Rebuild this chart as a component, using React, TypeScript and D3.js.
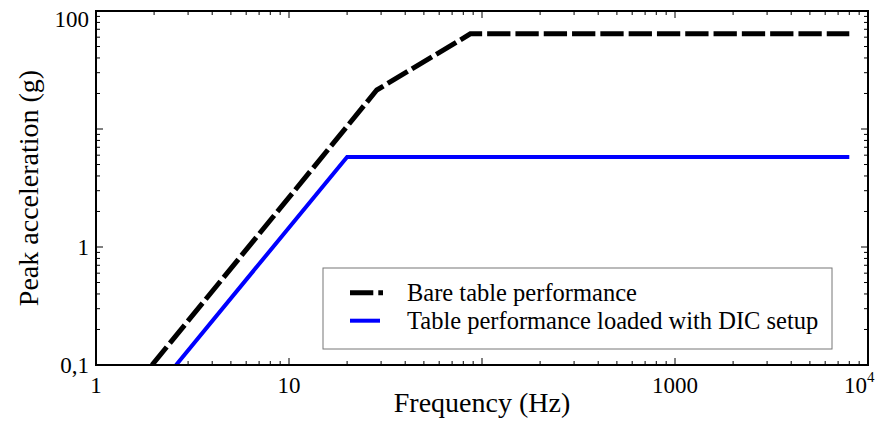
import React from "react";
import * as d3 from "d3";

const bareFreq = [1.95, 28.5, 87, 8000];
const bareAcc = [0.1, 21.4, 64, 64];
const loadedFreq = [2.6, 20, 8000];
const loadedAcc = [0.1, 5.8, 5.8];

const xMajor = [1, 10, 100, 1000, 10000];
const xLabels = ["1", "10", "", "1000", "10^4"];
const yMajor = [0.1, 1, 10, 100];
const yLabels = ["0,1", "1", "", "100"];

const seriesNames = ["Bare table performance", "Table performance loaded with DIC setup"];

const W = 888, H = 425;
const M = { left: 96, right: 868, top: 11, bottom: 365 };

export default function App() {
  const x = d3.scaleLog().domain([1, 10000]).range([M.left, M.right]);
  const y = d3.scaleLog().domain([0.1, 100]).range([M.bottom, M.top]);
  const line = d3.line<[number, number]>().x(d => x(d[0])).y(d => y(d[1]));
  const bare = bareFreq.map((f, i) => [f, bareAcc[i]] as [number, number]);
  const loaded = loadedFreq.map((f, i) => [f, loadedAcc[i]] as [number, number]);

  const xMinor: number[] = [];
  for (let d = 0; d < 4; d++) for (let k = 2; k <= 9; k++) xMinor.push(k * Math.pow(10, d));
  const yMinor: number[] = [];
  for (let d = -1; d < 2; d++) for (let k = 2; k <= 9; k++) yMinor.push(k * Math.pow(10, d));

  const font = "'Liberation Serif', 'Times New Roman', serif";
  const dash = "23.3,5";
  const maj = 7, mnr = 4;

  return (
    <svg width={W} height={H} style={{ position: "absolute", left: 0, top: 0, background: "#fff" }} fontFamily={font}>
      <defs>
        <clipPath id="plot">
          <rect x={M.left} y={M.top} width={M.right - M.left} height={M.bottom - M.top} />
        </clipPath>
      </defs>
      <rect x={0} y={0} width={W} height={H} fill="#fff" />
      {/* ticks */}
      <g stroke="#000" strokeWidth={1}>
        {xMajor.map((v, i) => (
          <g key={"xm" + i}>
            <line x1={x(v)} x2={x(v)} y1={M.bottom} y2={M.bottom - maj} />
            <line x1={x(v)} x2={x(v)} y1={M.top} y2={M.top + maj} />
          </g>
        ))}
        {xMinor.map((v, i) => (
          <g key={"xn" + i}>
            <line x1={x(v)} x2={x(v)} y1={M.bottom} y2={M.bottom - mnr} />
            <line x1={x(v)} x2={x(v)} y1={M.top} y2={M.top + mnr} />
          </g>
        ))}
        {yMajor.map((v, i) => (
          <g key={"ym" + i}>
            <line x1={M.left} x2={M.left + maj} y1={y(v)} y2={y(v)} />
            <line x1={M.right} x2={M.right - maj} y1={y(v)} y2={y(v)} />
          </g>
        ))}
        {yMinor.map((v, i) => (
          <g key={"yn" + i}>
            <line x1={M.left} x2={M.left + mnr} y1={y(v)} y2={y(v)} />
            <line x1={M.right} x2={M.right - mnr} y1={y(v)} y2={y(v)} />
          </g>
        ))}
      </g>
      {/* data */}
      <g clipPath="url(#plot)" fill="none">
        <path d={line(loaded) || ""} stroke="#0000ff" strokeWidth={4} />
        <path d={line(bare) || ""} stroke="#000" strokeWidth={5} strokeDasharray={dash} />
      </g>
      {/* frame */}
      <rect x={M.left} y={M.top} width={M.right - M.left} height={M.bottom - M.top} fill="none" stroke="#000" strokeWidth={2} />
      {/* x tick labels */}
      {xMajor.map((v, i) => {
        const lab = xLabels[i];
        if (!lab) return null;
        if (lab.includes("^")) {
          const [b, e] = lab.split("^");
          return (
            <g key={"xl" + i}>
              <text x={x(v) - 1} y={M.bottom + 28} fontSize={23} textAnchor="end">{b}</text>
              <text x={x(v) - 1} y={M.bottom + 17} fontSize={15} textAnchor="start">{e}</text>
            </g>
          );
        }
        return (
          <text key={"xl" + i} x={x(v)} y={M.bottom + 28} fontSize={23} textAnchor="middle">{lab}</text>
        );
      })}
      {yMajor.map((v, i) => {
        const lab = yLabels[i];
        if (!lab) return null;
        const yy = Math.max(y(v), M.top + 7.5);
        return (
          <text key={"yl" + i} x={M.left - 7} y={yy} dy="0.35em" fontSize={23} textAnchor="end">{lab}</text>
        );
      })}
      {/* axis titles */}
      <text x={(M.left + M.right) / 2} y={412} fontSize={28} textAnchor="middle">Frequency (Hz)</text>
      <text transform={`translate(38,${(M.top + M.bottom) / 2}) rotate(-90)`} fontSize={28} textAnchor="middle">Peak acceleration (g)</text>
      {/* legend */}
      <rect x={323} y={268} width={509} height={81} fill="#fff" stroke="#777" strokeWidth={1} />
      <line x1={350} x2={383} y1={292.7} y2={292.7} stroke="#000" strokeWidth={5} strokeDasharray={dash} />
      <line x1={350} x2={380} y1={320.7} y2={320.7} stroke="#0000ff" strokeWidth={4} />
      <text x={407} y={292.7} dy="0.33em" fontSize={24.5}>{seriesNames[0]}</text>
      <text x={407} y={320.7} dy="0.33em" fontSize={24.5}>{seriesNames[1]}</text>
    </svg>
  );
}
